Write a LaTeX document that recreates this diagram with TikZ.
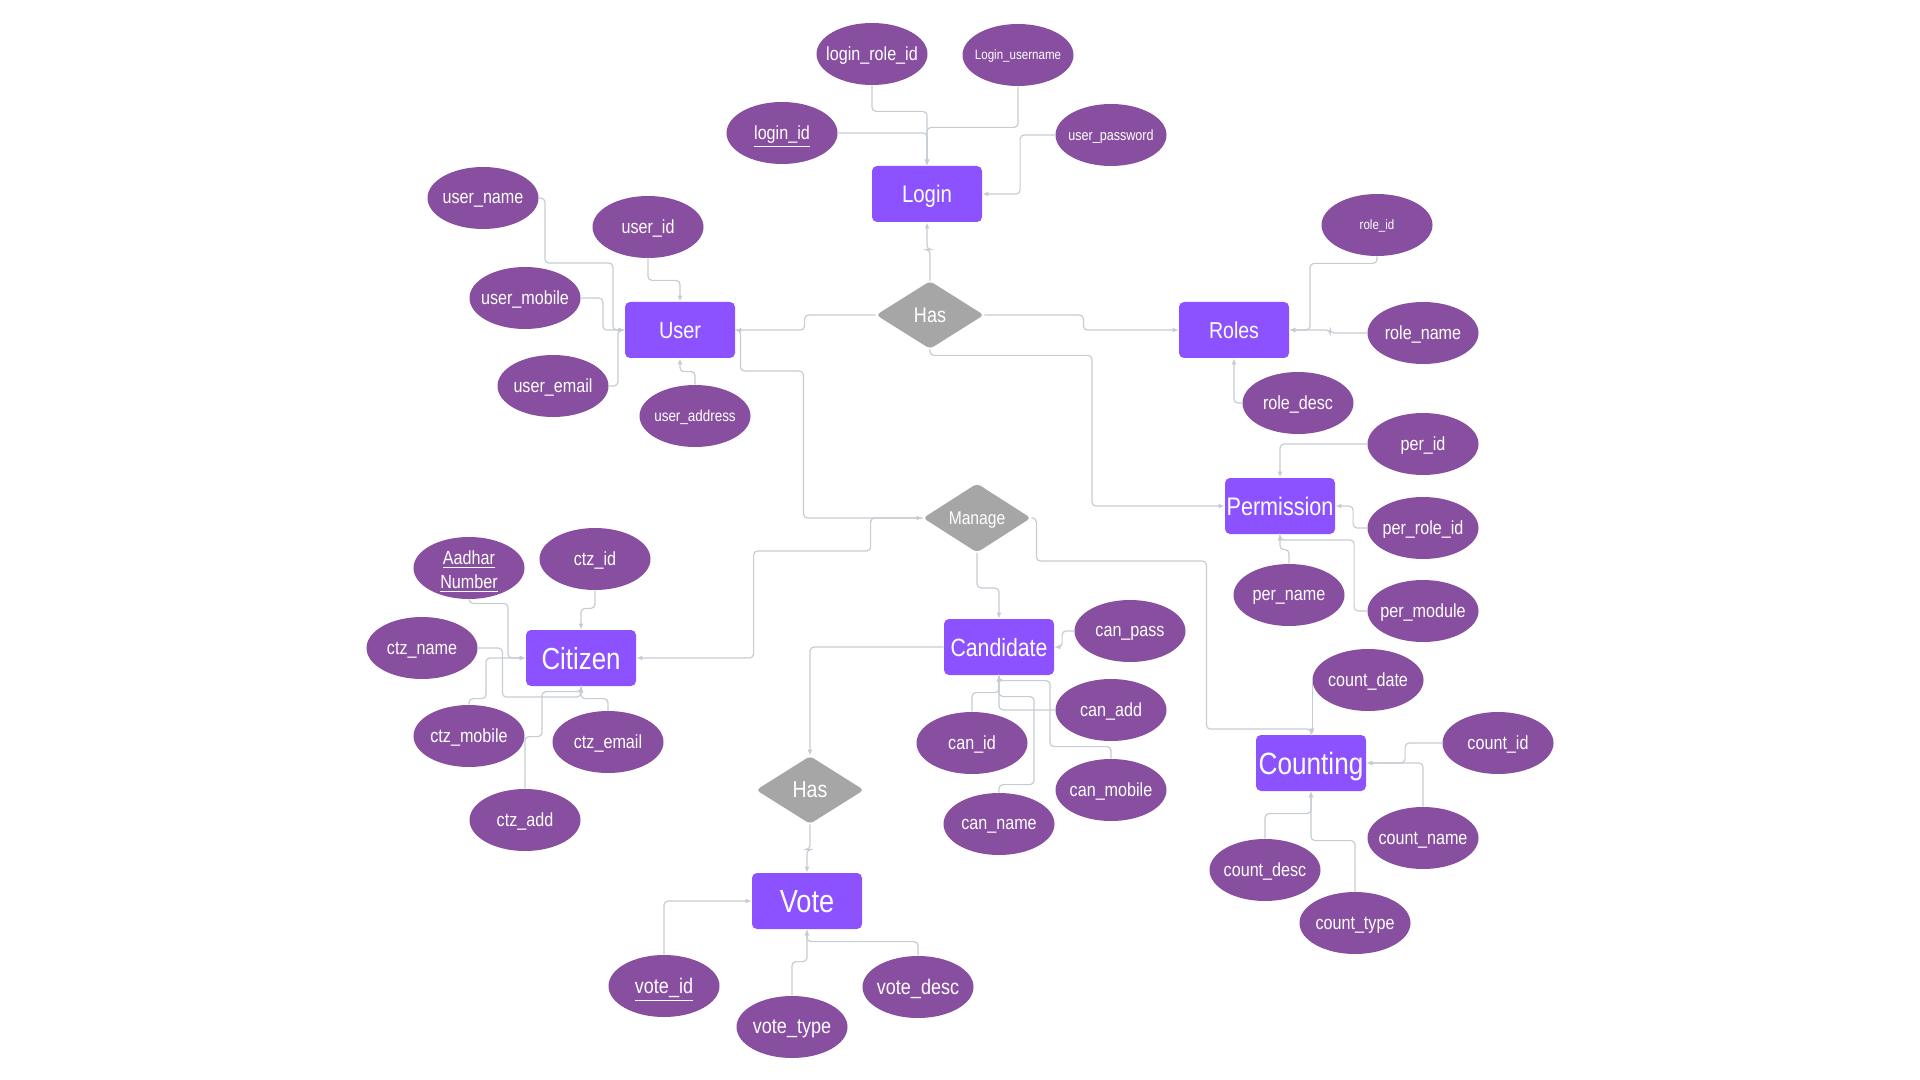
\documentclass[tikz,border=0pt]{standalone}
\usepackage{fontspec}
\setmainfont{Liberation Sans}[FakeStretch=0.85]
\usepackage{tikz}
\usetikzlibrary{shapes.geometric,arrows.meta}
\definecolor{entityfill}{HTML}{8C52FF}
\definecolor{attrfill}{HTML}{884EA0}
\definecolor{relfill}{HTML}{A6A6A6}
\definecolor{linkgrey}{HTML}{C6CCD3}
\newcommand{\fld}[1]{\makebox[0pt]{#1}}
\newcommand{\keyfld}[1]{\makebox[0pt]{\underline{#1}}}
\tikzset{
	entity/.style={rectangle, rounded corners=2.5pt, fill=entityfill, text=white, minimum width=55pt, minimum height=28pt, inner sep=0pt, text depth=0pt, font=\fontsize{12}{14}\selectfont},
	attrib/.style={ellipse, fill=attrfill, text=white, minimum width=55.5pt, minimum height=31pt, inner sep=0pt, text depth=0pt, font=\fontsize{9.5}{11}\selectfont},
	relation/.style={diamond, rounded corners=2pt, fill=relfill, text=white, minimum width=54pt, minimum height=34pt, inner sep=0pt, text depth=0pt, font=\fontsize{10.6}{12}\selectfont},
	link/.style={draw=linkgrey, line width=0.6pt, rounded corners=2pt, -{Latex[length=3pt,width=2.5pt]}}
}

\begin{document}
\begin{tikzpicture}[x=0.5pt,y=-0.5pt]
	\useasboundingbox (0,0) rectangle (1920,1080);
	% entities and relations
	\node[entity] (login) at (927,194) {Login};
	\node[entity, font=\fontsize{11.7}{14}\selectfont] (user) at (680,330) {User};
	\node[entity, font=\fontsize{11.5}{14}\selectfont] (roles) at (1234,330) {Roles};
	\node[entity, font=\fontsize{12.7}{14}\selectfont] (perm) at (1280,506) {Permission};
	\node[entity, font=\fontsize{12.5}{14}\selectfont] (cand) at (999,647) {Candidate};
	\node[entity, font=\fontsize{15.2}{17}\selectfont] (citizen) at (581,658) {Citizen};
	\node[entity, font=\fontsize{15.4}{17}\selectfont] (count) at (1311,763) {Counting};
	\node[entity, font=\fontsize{16}{18}\selectfont] (vote) at (807,901) {Vote};
	\node[relation] (has1) at (930,315) {Has};
	\node[relation, font=\fontsize{9.2}{11}\selectfont] (manage) at (977,518) {Manage};
	\node[relation, font=\fontsize{11.5}{13}\selectfont] (has2) at (810,790) {Has};
	% attributes
	\node[attrib] (loginrole) at (872,54) {\fld{login\_role\_id}};
	\node[attrib, font=\fontsize{6.8}{8}\selectfont] (loginuser) at (1018,55) {\fld{Login\_username}};
	\node[attrib] (loginid) at (782,133) {\keyfld{login\_id}};
	\node[attrib, font=\fontsize{7.4}{9}\selectfont] (userpass) at (1111,135) {\fld{user\_password}};
	\node[attrib] (username) at (483,198) {\fld{user\_name}};
	\node[attrib] (userid) at (648,227) {\fld{user\_id}};
	\node[attrib] (usermobile) at (525,298) {\fld{user\_mobile}};
	\node[attrib] (useremail) at (553,386) {\fld{user\_email}};
	\node[attrib, font=\fontsize{7.9}{9}\selectfont] (useraddr) at (695,416) {\fld{user\_address}};
	\node[attrib, font=\fontsize{6.8}{8}\selectfont] (roleid) at (1377,225) {\fld{role\_id}};
	\node[attrib] (rolename) at (1423,333) {\fld{role\_name}};
	\node[attrib] (roledesc) at (1298,403) {\fld{role\_desc}};
	\node[attrib] (perid) at (1423,444) {\fld{per\_id}};
	\node[attrib] (perrole) at (1423,528) {\fld{per\_role\_id}};
	\node[attrib] (pername) at (1289,595) {\fld{per\_name}};
	\node[attrib] (permod) at (1423,611) {\fld{per\_module}};
	\node[attrib] (canpass) at (1130,631) {\fld{can\_pass}};
	\node[attrib] (canadd) at (1111,710) {\fld{can\_add}};
	\node[attrib] (canid) at (972,743) {\fld{can\_id}};
	\node[attrib] (canmob) at (1111,790) {\fld{can\_mobile}};
	\node[attrib] (canname) at (999,824) {\fld{can\_name}};
	\node[attrib, font=\fontsize{10.6}{12}\selectfont] (voteid) at (664,986) {\keyfld{vote\_id}};
	\node[attrib, font=\fontsize{10.6}{12}\selectfont] (votetype) at (792,1027) {\fld{vote\_type}};
	\node[attrib, font=\fontsize{10.6}{12}\selectfont] (votedesc) at (918,987) {\fld{vote\_desc}};
	\node[attrib, font=\fontsize{9.5}{12}\selectfont, text depth=6pt] (aadhar) at (469,568) {\fld{\begin{tabular}{@{}c@{}}\underline{Aadhar}\\\underline{Number}\end{tabular}}};
	\node[attrib] (ctzid) at (595,559) {\fld{ctz\_id}};
	\node[attrib] (ctzname) at (422,648) {\fld{ctz\_name}};
	\node[attrib] (ctzmob) at (469,736) {\fld{ctz\_mobile}};
	\node[attrib] (ctzemail) at (608,742) {\fld{ctz\_email}};
	\node[attrib] (ctzadd) at (525,820) {\fld{ctz\_add}};
	\node[attrib] (countdate) at (1368,680) {\fld{count\_date}};
	\node[attrib] (countid) at (1498,743) {\fld{count\_id}};
	\node[attrib] (countname) at (1423,838) {\fld{count\_name}};
	\node[attrib] (countdesc) at (1265,870) {\fld{count\_desc}};
	\node[attrib] (counttype) at (1355,923) {\fld{count\_type}};
	% login
	\draw[link] (loginrole.south) -- ++(0,26) -| (login.north);
	\draw[link] (loginid.east) -| (login.north);
	\draw[link] (loginuser.south) -- ++(0,41) -| (login.north);
	\draw[link] (userpass.west) -- ++(-35,0) |- (login.east);
	% user
	\draw[link] (username.east) -- ++(6,0) -- ++(0,65) -- ++(68,0) |- (user.west);
	\draw[link] (usermobile.east) -- ++(22,0) |- (user.west);
	\draw[link] (useremail.east) -- ++(9,0) |- (user.west);
	\draw[link] (userid.south) -- ++(0,22) -| (user.north);
	\draw[link] (useraddr.north) -- ++(0,-13) -| (user.south);
	% relations
	\draw[link] (has1.north) -- ++(0,-31) -| (login.south);
	\draw[link] (has1.west) -- ++(-71,0) |- (user.east);
	\draw[link] (has1.east) -- ++(99,0) |- (roles.west);
	\draw[link] (has1.south) -- ++(0,6) -- ++(162,0) |- (perm.west);
	\draw[link] (user.east) -- ++(5,0) -- ++(0,41) -- ++(63,0) |- (manage.west);
	\draw[link] (manage.west) -- ++(-52,0) -- ++(0,33) -- ++(-117,0) |- (citizen.east);
	\draw[link] (manage.south) -- ++(0,35) -| (cand.north);
	\draw[link] (manage.east) -- ++(5,0) -- ++(0,43) -- ++(170,0) -- ++(0,168) -| (count.north);
	\draw[link] (cand.west) -| (has2.north);
	\draw[link] (has2.south) -- ++(0,25) -| (vote.north);
	% roles, permission
	\draw[link] (roleid.south) -- ++(0,7) -- ++(-67,0) |- (roles.east);
	\draw[link] (rolename.west) -- ++(-37,0) |- (roles.east);
	\draw[link] (roledesc.west) -| (roles.south);
	\draw[link] (perid.west) -| (perm.north);
	\draw[link] (perrole.west) -- ++(-14,0) |- (perm.east);
	\draw[link] (pername.north) -- ++(0,-14) -| (perm.south);
	\draw[link] (permod.west) -- ++(-13,0) -- ++(0,-71) -| (perm.south);
	% candidate
	\draw[link] (canpass.west) -- ++(-12,0) |- (cand.east);
	\draw[link] (canadd.west) -| (cand.south);
	\draw[link] (canid.north) -- ++(0,-19) -| (cand.south);
	\draw[link] (canmob.north) -- ++(0,-12) -- ++(-61,0) -- ++(0,-66) -| (cand.south);
	\draw[link] (canname.north) -- ++(0,-8) -- ++(35,0) -- ++(0,-88) -| (cand.south);
	% vote
	\draw[link] (voteid.north) |- (vote.west);
	\draw[link] (votetype.north) -- ++(0,-34) -| (vote.south);
	\draw[link] (votedesc.north) -- ++(0,-14) -| (vote.south);
	% citizen
	\draw[link] (aadhar.south) -- ++(0,4) -- ++(39,0) |- (citizen.west);
	\draw[link] (ctzid.south) -- ++(0,18) -| (citizen.north);
	\draw[link] (ctzname.east) -- ++(24.5,0) -- ++(0,49) -| (citizen.south);
	\draw[link] (ctzmob.north) -- ++(0,-6) -- ++(17,0) |- (citizen.west);
	\draw[link] (ctzemail.north) -- ++(0,-12) -| (citizen.south);
	\draw[link] (ctzadd.north) -- ++(0,-52) -- ++(17,0) -- ++(0,-45) -| (citizen.south);
	% counting
	\draw[link] (countdate.west) -- (countdate.west |- count.north);
	\draw[link] (countid.west) -- ++(-37,0) |- (count.east);
	\draw[link] (countname.north) |- (count.east);
	\draw[link] (countdesc.north) -- ++(0,-25) -| (count.south);
	\draw[link] (counttype.north) -- ++(0,-51) -| (count.south);
	%\draw [red] (current bounding box.south west) rectangle (current bounding box.north east);
\end{tikzpicture}
\end{document}
